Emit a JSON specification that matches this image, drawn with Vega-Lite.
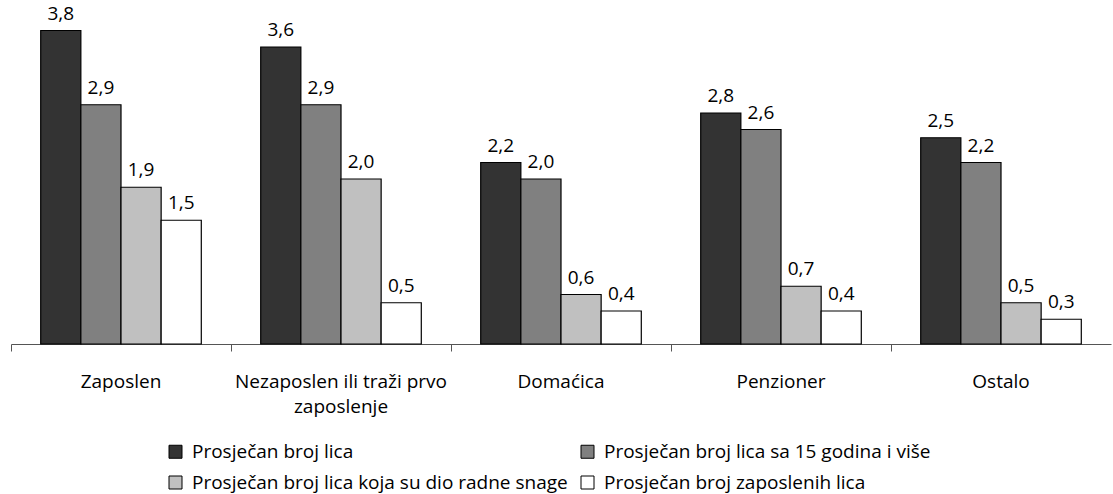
{
  "$schema": "https://vega.github.io/schema/vega-lite/v6.json",
  "width": 1100,
  "height": 330,
  "autosize": {"type": "none"},
  "padding": {"left": 11, "top": 14, "right": 2, "bottom": 150},
  "background": "white",
  "config": {
    "view": {"stroke": null},
    "font": "Open Sans",
    "locale": {"number": {"decimal": ",", "thousands": ".", "grouping": [3], "currency": ["", ""]}}
  },
  "data": {"values": [
    {"kategorija": "Zaposlen", "serija": "Prosječan broj lica", "vrijednost": 3.8},
    {"kategorija": "Zaposlen", "serija": "Prosječan broj lica sa 15 godina i više", "vrijednost": 2.9},
    {"kategorija": "Zaposlen", "serija": "Prosječan broj lica koja su dio radne snage", "vrijednost": 1.9},
    {"kategorija": "Zaposlen", "serija": "Prosječan broj zaposlenih lica", "vrijednost": 1.5},
    {"kategorija": "Nezaposlen ili traži prvo zaposlenje", "serija": "Prosječan broj lica", "vrijednost": 3.6},
    {"kategorija": "Nezaposlen ili traži prvo zaposlenje", "serija": "Prosječan broj lica sa 15 godina i više", "vrijednost": 2.9},
    {"kategorija": "Nezaposlen ili traži prvo zaposlenje", "serija": "Prosječan broj lica koja su dio radne snage", "vrijednost": 2.0},
    {"kategorija": "Nezaposlen ili traži prvo zaposlenje", "serija": "Prosječan broj zaposlenih lica", "vrijednost": 0.5},
    {"kategorija": "Domaćica", "serija": "Prosječan broj lica", "vrijednost": 2.2},
    {"kategorija": "Domaćica", "serija": "Prosječan broj lica sa 15 godina i više", "vrijednost": 2.0},
    {"kategorija": "Domaćica", "serija": "Prosječan broj lica koja su dio radne snage", "vrijednost": 0.6},
    {"kategorija": "Domaćica", "serija": "Prosječan broj zaposlenih lica", "vrijednost": 0.4},
    {"kategorija": "Penzioner", "serija": "Prosječan broj lica", "vrijednost": 2.8},
    {"kategorija": "Penzioner", "serija": "Prosječan broj lica sa 15 godina i više", "vrijednost": 2.6},
    {"kategorija": "Penzioner", "serija": "Prosječan broj lica koja su dio radne snage", "vrijednost": 0.7},
    {"kategorija": "Penzioner", "serija": "Prosječan broj zaposlenih lica", "vrijednost": 0.4},
    {"kategorija": "Ostalo", "serija": "Prosječan broj lica", "vrijednost": 2.5},
    {"kategorija": "Ostalo", "serija": "Prosječan broj lica sa 15 godina i više", "vrijednost": 2.2},
    {"kategorija": "Ostalo", "serija": "Prosječan broj lica koja su dio radne snage", "vrijednost": 0.5},
    {"kategorija": "Ostalo", "serija": "Prosječan broj zaposlenih lica", "vrijednost": 0.3}
  ]},
  "encoding": {
    "x": {
      "field": "kategorija", "type": "nominal", "sort": null, "title": null,
      "scale": {"paddingInner": 0, "paddingOuter": 0},
      "axis": {
        "bandPosition": 0, "labelAngle": 0, "labelFontSize": 19, "labelColor": "black",
        "labelPadding": 21, "tickSize": 7, "tickColor": "#555", "domainColor": "#555",
        "labelLineHeight": 25, "labelBaseline": "top", "labelLimit": 0,
        "labelExpr": "datum.label == 'Nezaposlen ili traži prvo zaposlenje' ? ['Nezaposlen ili traži prvo', 'zaposlenje'] : datum.label"
      }
    },
    "xOffset": {
      "field": "serija", "type": "nominal", "sort": null,
      "scale": {"paddingOuter": 0.74, "paddingInner": 0}
    },
    "y": {
      "field": "vrijednost", "type": "quantitative",
      "scale": {"domain": [0, 4], "nice": false},
      "axis": null
    }
  },
  "layer": [
    {
      "mark": {"type": "bar", "stroke": "black", "strokeWidth": 1.2},
      "encoding": {
        "fill": {
          "field": "serija", "type": "nominal", "sort": null,
          "scale": {
            "domain": ["Prosječan broj lica", "Prosječan broj lica sa 15 godina i više", "Prosječan broj lica koja su dio radne snage", "Prosječan broj zaposlenih lica"],
            "range": ["#333333", "#808080", "#c0c0c0", "#ffffff"]
          },
          "legend": {
            "title": null, "orient": "none", "legendX": 155, "legendY": 428,
            "direction": "horizontal", "padding": 0,
            "columns": 2, "columnPadding": 10, "rowPadding": 11,
            "symbolType": "square", "symbolSize": 169, "symbolStrokeColor": "black",
            "symbolStrokeWidth": 1, "symbolOpacity": 1,
            "labelFontSize": 19, "labelColor": "black", "labelOffset": 7, "labelLimit": 600
          }
        }
      }
    },
    {
      "mark": {"type": "text", "baseline": "alphabetic", "dy": -11, "fontSize": 19, "color": "black"},
      "encoding": {
        "text": {"field": "vrijednost", "type": "quantitative", "format": ".1f"}
      }
    }
  ]
}
